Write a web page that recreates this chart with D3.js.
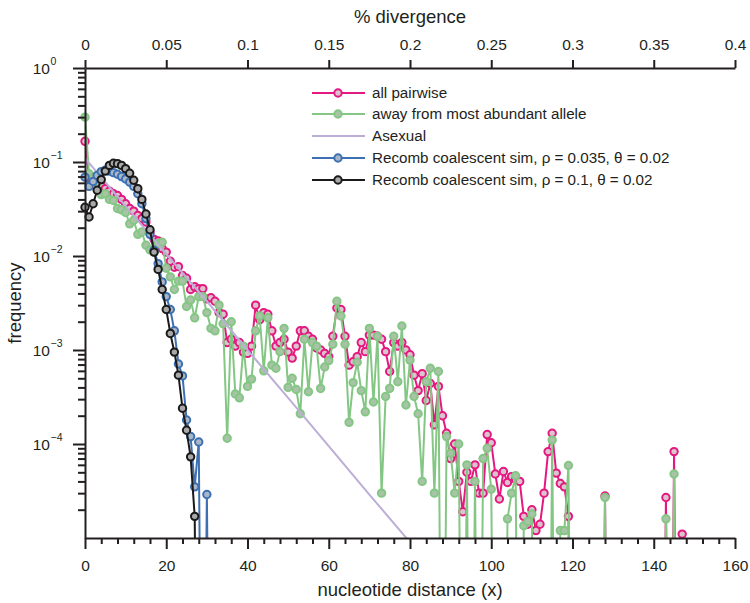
<!DOCTYPE html>
<html><head><meta charset="utf-8">
<script src="https://cdn.jsdelivr.net/npm/d3@7"></script>
<style>
body{margin:0;background:#fff}
svg{display:block;font-family:"Liberation Sans",Arial,Helvetica,sans-serif}
</style>
</head><body>
<svg id="chart" width="750" height="603"></svg>
<script>
// ---------------- data ----------------
// index = nucleotide distance x (0,1,2,...)
const allPairwise = [
 0.166,0.068,0.063,0.060,0.056,0.052,0.049,0.046,0.044,0.040,
 0.036,0.032,0.030,0.027,0.025,0.023,0.018,0.015,0.0145,0.012,
 0.011,0.0088,0.0076,0.0077,0.0062,0.0058,0.0044,0.0047,0.0045,0.0045,
 0.0035,0.0036,0.0033,0.0025,0.0024,0.0012,0.0013,0.0011,0.0012,0.00095,
 0.00092,0.0011,0.0030,0.0021,0.0025,0.0024,0.0016,0.0011,0.0012,0.0013,
 0.00095,0.00082,0.0011,0.0016,0.0016,0.0014,0.0013,0.00105,0.0010,0.00092,
 0.00085,0.0014,0.0028,0.0027,0.0014,0.00069,0.00075,0.00085,0.0012,0.00096,
 0.00144,0.00144,0.0014,0.0013,0.00096,0.00059,0.0012,0.0011,0.0012,0.0010,
 0.00089,0.00054,0.00037,0.00056,0.00029,0.00044,0.00016,0.00041,0.00020,0.00013,
 0.00007,0.00010,0.00004,0.000019,0.00005,0.00004,0.00006,0.00003,0.00003,0.000126,
 0.000103,0.000048,0.000026,0.000051,0.000039,0.000045,0.000042,0.00004,0.000017,0.000014,
 0.00002,0.000012,0.000014,0.00003,0.000083,0.00013,0.000049,0.000038,0.000035,0.000017,
 0,0,0,0,0,0,0,0,0.000028,0,
 0,0,0,0,0,0,0,0,0,0,
 0,0,0,0.000027,0,0.000083,0,0.000011,0
];
const awayFromAbundant = [
 0.30,0.075,0.068,0.060,0.045,0.046,0.040,0.039,0.032,0.031,
 0.029,0.022,0.024,0.017,0.018,0.013,0.0116,0.011,0.0135,0.014,
 0.0074,0.006,0.0044,0.0054,0.0054,0.0029,0.0034,0.0022,0.0037,0.0037,
 0.0025,0.0017,0.0016,0.0030,0.0019,0.000115,0.0020,0.00034,0.00031,0.0011,
 0.00041,0.00049,0.0016,0.0023,0.0006,0.0022,0.00069,0.00064,0.00096,0.0017,
 0.0004,0.0005,0.00038,0.00021,0.0013,0.00036,0.0012,0.0011,0.00039,0.00066,
 0.00077,0.00115,0.0033,0.0023,0.00115,0.00017,0.00045,0.00074,0.00037,0.00022,
 0.0017,0.00028,0.0014,0.00003,0.00032,0.00039,0.0014,0.00046,0.0018,0.00026,
 0.00078,0.00032,0.00021,0.00004,0.00046,0.00064,0.00003,0.00059,0,0.00012,
 0.00008,0.00003,0.0001,0,0.00006,0,0.00004,0,0.00007,0.00009,
 0.000033,0,0,0,0.000016,0.00003,0.000046,0,0.0000135,0.000015,
 0.000018,0,0,0,0,0.00011,0,0.000012,0.000012,0.000059,
 0,0,0,0,0,0,0,0,0.000027,0,
 0,0,0,0,0,0,0,0,0,0,
 0,0,0,0.000016,0,0.000048,0
];
const asexualX = [0,10,20,30,40,50,60,70,80];
const asexualVals = [0.11,0.034,0.0105,0.0033,0.0010,0.00031,0.000095,0.000029,0.000009];
const recombRho035 = [
 0.069,0.055,0.062,0.072,0.079,0.082,0.080,0.077,0.074,0.070,
 0.066,0.061,0.055,0.046,0.036,0.025,0.017,0.0115,0.0083,0.0053,
 0.0037,0.0027,0.0016,0.00071,0.00053,0.00018,0.00012,0.000035,0.000105,0,
 0.000029,0
];
const recombRho1 = [
 0.033,0.026,0.036,0.050,0.065,0.080,0.092,0.097,0.096,0.092,
 0.085,0.076,0.064,0.052,0.040,0.028,0.019,0.011,0.0072,0.0044,
 0.0027,0.0015,0.00095,0.00054,0.00024,0.00014,0.000073,0.000017,0
];
const legendLabels = [
 "all pairwise",
 "away from most abundant allele",
 "Asexual",
 "Recomb coalescent sim, \u03c1 = 0.035, \u03b8 = 0.02",
 "Recomb coalescent sim, \u03c1 = 0.1, \u03b8 = 0.02"
];
const bottomTicks = [0,20,40,60,80,100,120,140,160];
const topTicks = [0,0.05,0.1,0.15,0.2,0.25,0.3,0.35,0.4];
const topTickLabels = ["0","0.05","0.1","0.15","0.2","0.25","0.3","0.35","0.4"];
const yTicks = [1,0.1,0.01,0.001,0.0001];
const yTickExponents = ["0","\u22121","\u22122","\u22123","\u22124"];

// ---------------- layout ----------------
const L = 85, R = 735, T = 68, B = 538;
const ink = "#231f20";
const svg = d3.select("#chart");

const x = d3.scaleLinear().domain([0,160]).range([L,R]);
const xTop = d3.scaleLinear().domain([0,0.4]).range([L,R]);
const y = d3.scaleLog().domain([1e-5,1]).range([B,T]);
const yv = v => y(Math.max(v, 1e-9));

svg.append("defs").append("clipPath").attr("id","plotclip")
  .append("rect").attr("x",L-6).attr("y",T-6).attr("width",R-L+12).attr("height",B-T+6);
svg.append("defs").append("clipPath").attr("id","lineclip")
  .append("rect").attr("x",L).attr("y",T-6).attr("width",R-L+6).attr("height",B-T+6);

// ---------------- series ----------------
const series = [
  {vals: allPairwise, xs: null, stroke:"#e4197f", fill:"#dcc4cf", marker:true},
  {vals: awayFromAbundant, xs: null, stroke:"#84c784", fill:"#a9c3a7", marker:true},
  {vals: asexualVals, xs: asexualX, stroke:"#bcaed6", fill:"none", marker:false},
  {vals: recombRho035, xs: null, stroke:"#3d70b2", fill:"#a9b6c8", marker:true},
  {vals: recombRho1, xs: null, stroke:"#1a1a1a", fill:"#a9a9a9", marker:true}
];
const plot = svg.append("g");
series.forEach(s => {
  const pts = s.vals.map((v,i) => ({x: s.xs ? s.xs[i] : i, v}));
  const line = d3.line().x(d => x(d.x)).y(d => yv(d.v));
  plot.append("path").datum(pts)
    .attr("clip-path","url(#lineclip)")
    .attr("fill","none").attr("stroke",s.stroke).attr("stroke-width",2)
    .attr("stroke-linejoin","round").attr("d",line);
  if (s.marker) {
    plot.append("g").attr("clip-path","url(#plotclip)")
      .selectAll("circle").data(pts.filter(d => d.v >= 1e-5)).join("circle")
      .attr("cx", d => x(d.x)).attr("cy", d => yv(d.v)).attr("r",3.7)
      .attr("fill", s.fill).attr("stroke", s.stroke).attr("stroke-width",2);
  }
});

// ---------------- axes ----------------
const axG = svg.append("g");
axG.append("g").attr("transform",`translate(0,${B})`)
  .call(d3.axisBottom(x).tickValues(bottomTicks).tickSize(11).tickSizeOuter(0).tickPadding(11));
const minorX = d3.range(0,161,4).filter(v => v % 20 !== 0);
axG.append("g").attr("transform",`translate(0,${B})`)
  .call(d3.axisBottom(x).tickValues(minorX).tickSize(6).tickSizeOuter(0).tickFormat(""))
  .select(".domain").remove();
axG.append("g").attr("transform",`translate(0,${T})`)
  .call(d3.axisTop(xTop).tickValues(topTicks).tickSize(8).tickSizeOuter(0).tickPadding(10)
        .tickFormat((d,i) => topTickLabels[i]));
axG.append("g").attr("transform",`translate(${L},0)`)
  .call(d3.axisLeft(y).tickValues(yTicks).tickSize(12).tickSizeOuter(0).tickFormat(""));
const minorY = [];
[1e-5,1e-4,1e-3,1e-2,1e-1].forEach(base => { for (let k=2;k<=9;k++) minorY.push(base*k); });
axG.append("g").attr("transform",`translate(${L},0)`)
  .call(d3.axisLeft(y).tickValues(minorY).tickSize(7).tickSizeOuter(0).tickFormat(""))
  .select(".domain").remove();
axG.selectAll(".domain, .tick line").attr("stroke",ink).attr("stroke-width",2);
axG.selectAll(".tick text").attr("font-size",15.5).attr("fill",ink)
  .attr("font-family","Liberation Sans, Arial, sans-serif");

yTicks.forEach((t,i) => {
  const yy = y(t);
  svg.append("text").attr("x",50).attr("y",yy+5.5).attr("text-anchor","end")
    .attr("font-size",15.5).attr("fill",ink).text("10");
  svg.append("text").attr("x",50.5).attr("y",yy-3).attr("text-anchor","start")
    .attr("font-size",10.5).attr("fill",ink).text(yTickExponents[i]);
});

svg.append("text").attr("x",(L+R)/2).attr("y",23).attr("text-anchor","middle")
  .attr("font-size",18.5).attr("fill",ink).text("% divergence");
svg.append("text").attr("x",(L+R)/2).attr("y",596).attr("text-anchor","middle")
  .attr("font-size",18.5).attr("fill",ink).text("nucleotide distance (x)");
svg.append("text").attr("transform",`translate(21,${(T+B)/2}) rotate(-90)`)
  .attr("text-anchor","middle").attr("font-size",18.5).attr("fill",ink).text("frequency");

// ---------------- legend ----------------
const legY = [93,114,136,158,180];
const leg = svg.append("g");
series.forEach((s,i) => {
  leg.append("line").attr("x1",312).attr("x2",365).attr("y1",legY[i]).attr("y2",legY[i])
    .attr("stroke",s.stroke).attr("stroke-width",2);
  if (s.marker) leg.append("circle").attr("cx",338).attr("cy",legY[i]).attr("r",3.7)
    .attr("fill",s.fill).attr("stroke",s.stroke).attr("stroke-width",2);
  leg.append("text").attr("x",372).attr("y",legY[i]).attr("dy","0.35em")
    .attr("font-size",15.2).attr("fill",ink).text(legendLabels[i]);
});
</script>
</body></html>
